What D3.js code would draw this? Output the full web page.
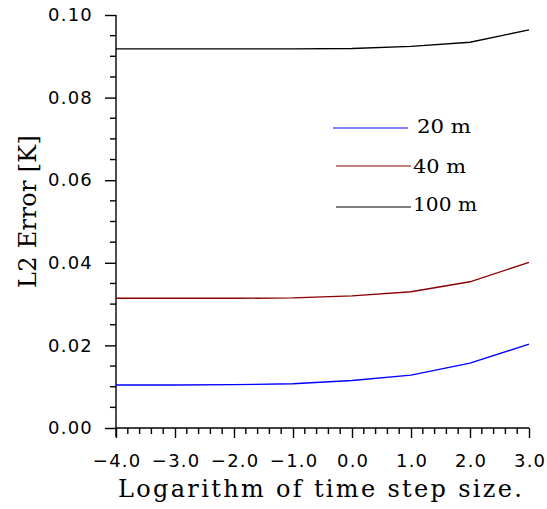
<!DOCTYPE html>
<html><head><meta charset="utf-8">
<script src="https://cdn.jsdelivr.net/npm/d3@7"></script>
<style>body{margin:0;background:#fff}svg{display:block}</style>
</head><body>
<svg id="c" width="547" height="509"></svg>
<script>
const xs = [-4, -3, -2, -1, 0, 1, 2, 3];
const seriesNames = ["20 m", "40 m", "100 m"];
const s20 = [0.0104, 0.0104, 0.0105, 0.0107, 0.0115, 0.0128, 0.0157, 0.0203];
const s40 = [0.0314, 0.0314, 0.0314, 0.0315, 0.0320, 0.0330, 0.0354, 0.0401];
const s100 = [0.0918, 0.0918, 0.0918, 0.0918, 0.0919, 0.0924, 0.0934, 0.0964];
const colors = ["#0000ff", "#8b0000", "#000000"];
const xTicks = [-4, -3, -2, -1, 0, 1, 2, 3];
const yTicks = [0, 0.02, 0.04, 0.06, 0.08, 0.10];

const svg = d3.select("#c");
const x = d3.scaleLinear().domain([-4, 3]).range([116, 529]);
const y = d3.scaleLinear().domain([0, 0.1]).range([428, 15]);

const fmtX = d => (d < 0 ? "\u2212" : "") + Math.abs(d).toFixed(1);
const g = svg.append("g");

// axes
const xAxis = d3.axisBottom(x).tickValues(xTicks).tickSize(10).tickFormat(fmtX).tickSizeOuter(0);
const xg = g.append("g").attr("transform", "translate(0,428)").call(xAxis);
xg.select(".domain").attr("d", `M${x(-4)},0H${x(3)}`);
const xMinor = d3.range(-4, 3.0001, 0.2).filter(v => Math.abs(v - Math.round(v)) > 1e-6);
xg.selectAll(".minor").data(xMinor).join("line").attr("class", "minor")
  .attr("x1", d => x(d)).attr("x2", d => x(d)).attr("y1", 0).attr("y2", 6).attr("stroke", "#000");

const yAxis = d3.axisLeft(y).tickValues(yTicks).tickSize(11).tickFormat(d3.format(".2f")).tickSizeOuter(0);
const yg = g.append("g").attr("transform", "translate(116,0)").call(yAxis);
yg.select(".domain").attr("d", `M0,${y(0.1)}V437`);
const yMinor = d3.range(0, 0.1001, 0.005).filter(v => Math.abs(v * 50 - Math.round(v * 50)) > 1e-6);
yg.selectAll(".minor").data(yMinor).join("line").attr("class", "minor")
  .attr("y1", d => y(d)).attr("y2", d => y(d)).attr("x1", 0).attr("x2", -6).attr("stroke", "#000");

[xg, yg].forEach(a => {
  a.selectAll("path,line").attr("stroke", "#000").attr("stroke-width", 1.4);
  a.selectAll("text").attr("font-family", "DejaVu Sans").attr("font-size", 18)
    .attr("letter-spacing", "1.2px").attr("fill", "#000");
});
xg.selectAll(".tick text").attr("y", 39).attr("dy", null).attr("dx", "0.6px");
yg.selectAll(".tick text").attr("x", -23);

// lines
const line = d3.line().x((d, i) => x(xs[i])).y(d => y(d));
[s20, s40, s100].forEach((s, k) => {
  g.append("path").datum(s).attr("d", line).attr("fill", "none")
    .attr("stroke", colors[k]).attr("stroke-width", 1.4);
});

// legend
const legY = [128, 166, 207];
const legX1 = [333, 336, 336];
const legX2 = [408, 411, 411];
const legTX = [417, 413, 413];
const legLen = [54, 53, 64];
const legBase = [133, 173, 211];
seriesNames.forEach((n, k) => {
  g.append("line").attr("x1", legX1[k]).attr("x2", legX2[k]).attr("y1", legY[k]).attr("y2", legY[k])
    .attr("stroke", colors[k]).attr("stroke-width", 1);
  g.append("text").attr("x", legTX[k]).attr("y", legBase[k]).text(n)
    .attr("textLength", legLen[k]).attr("lengthAdjust", "spacingAndGlyphs")
    .attr("font-family", "DejaVu Serif").attr("font-size", 18.5).attr("fill", "#000");
});

// titles
g.append("text").attr("x", 118).attr("y", 497)
  .attr("textLength", 404).attr("lengthAdjust", "spacing")
  .attr("font-family", "DejaVu Serif").attr("font-size", 24).attr("fill", "#000")
  .text("Logarithm of time step size.");
g.append("text").attr("transform", "translate(36,288) rotate(-90)")
  .attr("textLength", 153).attr("lengthAdjust", "spacing")
  .attr("font-family", "DejaVu Serif").attr("font-size", 24).attr("fill", "#000")
  .text("L2 Error [K]");
</script>
</body></html>
